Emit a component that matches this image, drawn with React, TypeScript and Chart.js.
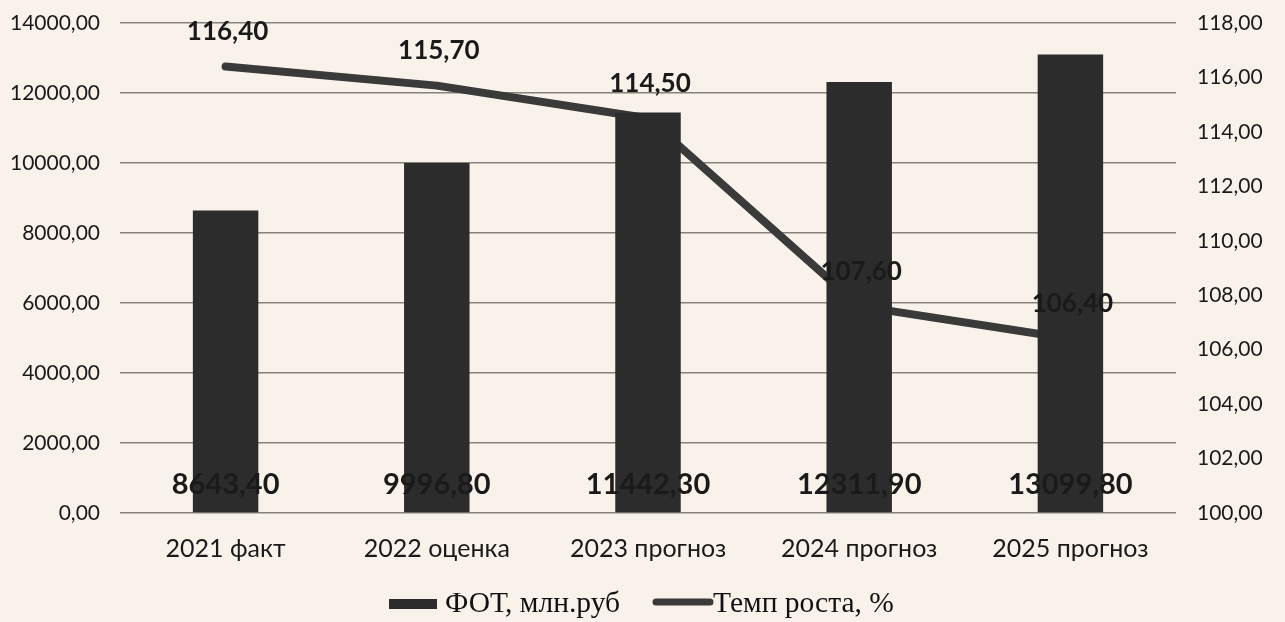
import React, { useEffect, useRef } from "react";
import { Chart, registerables } from "chart.js";

Chart.register(...registerables);

const categories = ["2021 факт", "2022 оценка", "2023 прогноз", "2024 прогноз", "2025 прогноз"];
const fotValues = [8643.4, 9996.8, 11442.3, 12311.9, 13099.8];
const rateValues = [116.4, 115.7, 114.5, 107.6, 106.4];
const fotLabel = "ФОТ, млн.руб";
const rateLabel = "Темп роста, %";

const BG = "#f8f2ea";
const BAR = "#2c2c2c";
const LINE = "#3a3a3a";
const TXT = "#1a1a1a";
const SANS = "Lato, 'Open Sans', sans-serif";
const SERIF = "'Liberation Serif', 'Times New Roman', serif";

const fmt = (v: number) => v.toFixed(2).replace(".", ",");

const labelsPlugin = {
  id: "valueLabels",
  afterDatasetsDraw(chart: any) {
    const ctx = chart.ctx;
    ctx.save();
    ctx.fillStyle = TXT;
    ctx.textAlign = "center";
    ctx.textBaseline = "middle";
    const barMeta = chart.getDatasetMeta(0);
    const yBase = chart.scales.y.getPixelForValue(0);
    ctx.font = `bold 29px ${SANS}`;
    barMeta.data.forEach((el: any, i: number) => {
      ctx.fillText(fmt(fotValues[i]), el.x, yBase - 28);
    });
    const lineMeta = chart.getDatasetMeta(1);
    ctx.font = `bold 26px ${SANS}`;
    lineMeta.data.forEach((el: any, i: number) => {
      ctx.fillText(fmt(rateValues[i]), el.x + 2, el.y - 35);
    });
    ctx.restore();
  },
  afterDraw(chart: any) {
    const ctx = chart.ctx;
    ctx.save();
    ctx.font = `29.5px ${SERIF}`;
    ctx.textBaseline = "middle";
    const y = 604;
    ctx.fillStyle = BAR;
    ctx.fillRect(389, y - 5, 48, 10);
    ctx.fillStyle = "#111";
    ctx.textAlign = "left";
    ctx.fillText(fotLabel, 445, y);
    ctx.strokeStyle = LINE;
    ctx.lineWidth = 7;
    ctx.lineCap = "round";
    ctx.beginPath();
    ctx.moveTo(656, y - 2);
    ctx.lineTo(710, y - 2);
    ctx.stroke();
    ctx.fillText(rateLabel, 713, y);
    ctx.restore();
  },
};

export default function App() {
  const ref = useRef<HTMLCanvasElement | null>(null);
  useEffect(() => {
    if (!ref.current) return;
    const chart = new Chart(ref.current, {
      type: "bar",
      data: {
        labels: categories,
        datasets: [
          {
            type: "bar",
            label: fotLabel,
            data: fotValues,
            backgroundColor: BAR,
            barPercentage: 0.31,
            categoryPercentage: 1,
            yAxisID: "y",
            order: 1,
          },
          {
            type: "line",
            label: rateLabel,
            data: rateValues,
            borderColor: LINE,
            borderWidth: 8,
            borderCapStyle: "round",
            borderJoinStyle: "round",
            pointRadius: 0,
            tension: 0,
            yAxisID: "y1",
            order: 2,
          } as any,
        ],
      },
      options: {
        responsive: false,
        animation: false,
        layout: { padding: { top: 23, left: 0, right: 0, bottom: 0 } },
        plugins: {
          legend: { display: false },
          tooltip: { enabled: false },
        },
        scales: {
          x: {
            grid: { display: false, drawTicks: false },
            border: { display: false },
            ticks: { color: TXT, font: { family: SANS, size: 25 }, padding: 21 },
            afterFit: (s: any) => {
              s.height = 109;
            },
          },
          y: {
            position: "left",
            min: 0,
            max: 14000,
            ticks: {
              stepSize: 2000,
              color: TXT,
              font: { family: SANS, size: 21 },
              padding: 20,
              callback: (v: any) => fmt(Number(v)),
            },
            grid: { color: "#86817b", lineWidth: 1.6, drawTicks: false },
            border: { display: false },
            afterFit: (s: any) => {
              s.width = 120;
              s.paddingTop = 0;
              s.paddingBottom = 0;
            },
          },
          y1: {
            position: "right",
            min: 100,
            max: 118,
            ticks: {
              stepSize: 2,
              color: TXT,
              font: { family: SANS, size: 21 },
              padding: 21,
              callback: (v: any) => fmt(Number(v)),
            },
            grid: { display: false, drawTicks: false },
            border: { display: false },
            afterFit: (s: any) => {
              s.width = 109;
              s.paddingTop = 0;
              s.paddingBottom = 0;
            },
          },
        },
      },
      plugins: [labelsPlugin],
    });
    return () => chart.destroy();
  }, []);
  return (
    <div style={{ position: "fixed", left: 0, top: 0, width: 1285, height: 622, background: BG }}>
      <canvas ref={ref} width={1285} height={622} style={{ display: "block" }} />
    </div>
  );
}
